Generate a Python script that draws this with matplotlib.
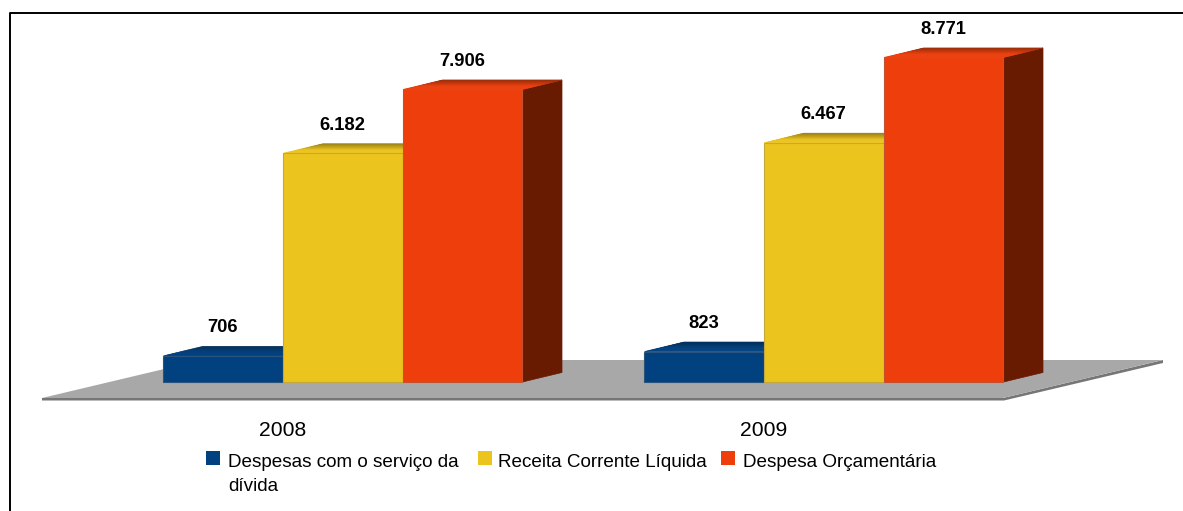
import matplotlib
matplotlib.use("Agg")
import matplotlib.pyplot as plt
from matplotlib.colors import to_rgb
from matplotlib.patches import Polygon, Rectangle

years = ["2008", "2009"]
series_names = ["Despesas com o serviço da\ndívida", "Receita Corrente Líquida", "Despesa Orçamentária"]
divida = [706, 823]
receita = [6182, 6467]
despesa = [7906, 8771]
value_labels = [["706", "823"], ["6.182", "6.467"], ["7.906", "8.771"]]
series_values = [divida, receita, despesa]

colors = ["#02417F", "#ECC41E", "#EE3E0C"]
top_dark = ["#012B55", "#8F7510", "#8E2A08"]
side_colors = ["#012B55", "#7A640E", "#691B02"]

W, H = 1183, 511
plt.rcParams["font.family"] = ["Liberation Sans", "DejaVu Sans"]
fig = plt.figure(figsize=(W / 100, H / 100), dpi=100, facecolor="white")
ax = fig.add_axes([0, 0, 1, 1])

# scale: pixels per category step and per value unit
PX_X, PX_Y = 481.0, 0.0370
X0, Y0 = 343.0, 382.0
ax.set_xlim(-X0 / PX_X, (W - X0) / PX_X)
ax.set_ylim(-(H - Y0) / PX_Y, Y0 / PX_Y)
ax.axis("off")

def dx(px):
    return px / PX_X

def dy(px):
    return px / PX_Y

def pt(px, py):
    return ((px - X0) / PX_X, (Y0 - py) / PX_Y)

# frame
ax.plot(*zip(pt(10.5, 511), pt(10.5, 13.5), pt(1183, 13.5)), color="black", lw=1.4, zorder=1)

# floor
ax.add_patch(Polygon([pt(42, 398), pt(1003, 398), pt(1163, 360), pt(1163, 363), pt(1004, 400.5), pt(42, 400.5)],
                     closed=True, fc="#767676", ec="none", zorder=1))
ax.add_patch(Polygon([pt(42, 398), pt(1003, 398), pt(1163, 360), pt(202, 360)],
                     closed=True, fc="#A8A8A8", ec="none", zorder=1))

STEP = 119.8 / PX_X
BAR_W = 119.4 / PX_X
DEPTH_X, DEPTH_Y = dx(39.5), dy(9.5)
STEPS = 10

def mix(a, b, t):
    a, b = to_rgb(a), to_rgb(b)
    return tuple(p + (q - p) * t for p, q in zip(a, b))

z = 2
for j, (vals, col, dark, side) in enumerate(zip(series_values, colors, top_dark, side_colors)):
    xs = [i + (j - 1) * STEP for i in range(len(vals))]
    for x, v in zip(xs, vals):
        left = x - BAR_W / 2
        right = x + BAR_W / 2
        # side face
        ax.add_patch(Polygon([(right, 0), (right + DEPTH_X, DEPTH_Y), (right + DEPTH_X, v + DEPTH_Y), (right, v)],
                             closed=True, fc=side, ec=side, lw=0.5, zorder=z))
        # top face, shaded from the back edge to the front edge
        for s in range(STEPS):
            t0, t1 = s / STEPS, (s + 1) / STEPS
            shade = mix(dark, col, min(1, t1 * 1.3))
            ax.add_patch(Polygon([(left + DEPTH_X * (1 - t0), v + DEPTH_Y * (1 - t0)),
                                  (right + DEPTH_X * (1 - t0), v + DEPTH_Y * (1 - t0)),
                                  (right + DEPTH_X * (1 - t1), v + DEPTH_Y * (1 - t1)),
                                  (left + DEPTH_X * (1 - t1), v + DEPTH_Y * (1 - t1))],
                                 closed=True, fc=shade, ec=shade, lw=0.5, zorder=z))
    # front faces
    ax.bar(xs, vals, width=BAR_W, color=col, edgecolor=mix(col, "#777777", 0.35),
           linewidth=0.8, zorder=z + 1)
    for i, (x, v) in enumerate(zip(xs, vals)):
        ax.text(x - dx(0.5), v + DEPTH_Y + dy(18.5), value_labels[j][i],
                ha="center", va="center", fontsize=13.2, fontweight="bold", color="black", zorder=10)
    z += 2

# category labels
for i, y in enumerate(years):
    ax.text(i - dx(60.5), dy(-48), y, ha="center", va="center", fontsize=15.2, color="black")

# legend
legend_x = [206, 478, 721]
text_x = [228, 498, 743]
for name, col, mx, tx in zip(series_names, colors, legend_x, text_x):
    x0, y0 = pt(mx, 465)
    ax.add_patch(Rectangle((x0, y0), dx(14), dy(14), fc=col, ec="none", zorder=5))
    for k, line in enumerate(name.split("\n")):
        xt, yt = pt(tx, 462 + 24 * k)
        ax.text(xt, yt, line, ha="left", va="center", fontsize=13.6, color="black")

fig.savefig("out.png", dpi=100, facecolor="white")
